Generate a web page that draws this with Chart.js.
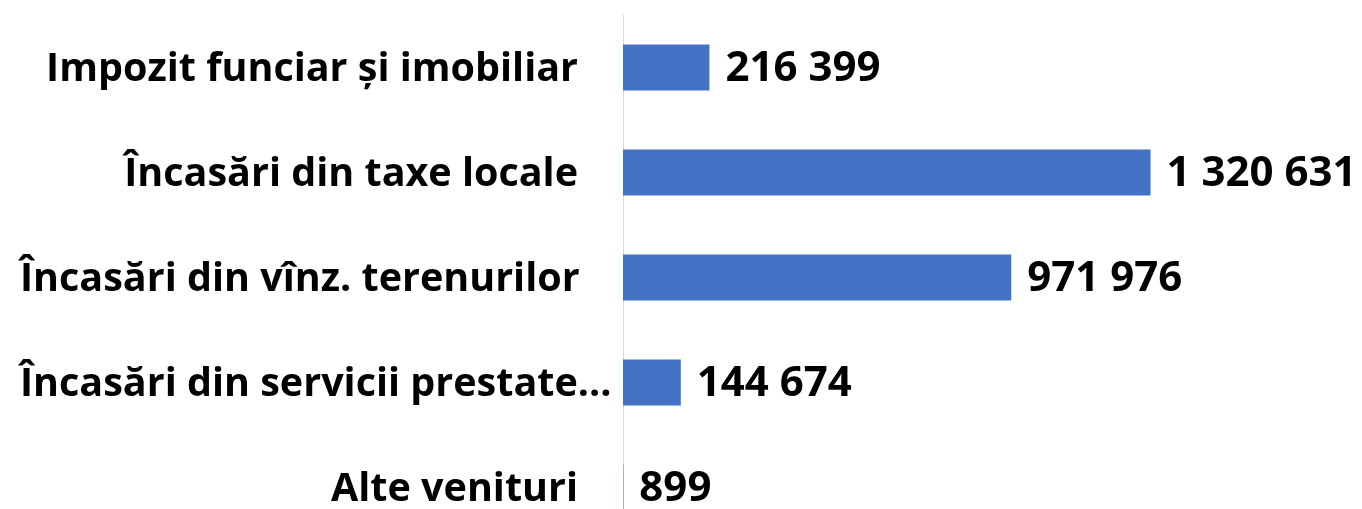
<!DOCTYPE html>
<html>
<head>
<meta charset="utf-8">
<script src="https://cdn.jsdelivr.net/npm/chart.js@4/dist/chart.umd.min.js"></script>
<style>
  html, body { margin: 0; padding: 0; background: #fff; overflow: hidden; }
  #wrap { width: 1362px; height: 540px; }
</style>
</head>
<body>
<div id="wrap"><canvas id="chart"></canvas></div>
<script>
const categories = [
    'Impozit funciar și imobiliar',
    'Încasări din taxe locale',
    'Încasări din vînz. terenurilor',
    'Încasări din servicii prestate...',
    'Alte venituri'
];
const values = [216399, 1320631, 971976, 144674, 899];

const FONT = '"Open Sans", "Noto Sans", sans-serif';
const BAR_COLOR = '#4472C4';

function fmt(v) {
    return String(v).replace(/\B(?=(\d{3})+(?!\d))/g, ' ');
}

// category names drawn by hand so an over-long one can overflow to the right like in Excel
const categoryLabels = {
    id: 'categoryLabels',
    afterDraw(chart) {
        const ctx = chart.ctx;
        const y = chart.scales.y;
        ctx.save();
        ctx.font = 'bold 39.5px ' + FONT;
        ctx.fillStyle = '#000';
        ctx.textAlign = 'left';
        ctx.textBaseline = 'middle';
        categories.forEach((name, i) => {
            const w = ctx.measureText(name).width;
            const right = Math.max(20 + w, 578);
            ctx.fillText(name, right - w, y.getPixelForValue(i) + 2);
        });
        ctx.restore();
    }
};

// value labels to the right of each bar
const valueLabels = {
    id: 'valueLabels',
    afterDatasetsDraw(chart) {
        const ctx = chart.ctx;
        const meta = chart.getDatasetMeta(0);
        ctx.save();
        ctx.font = 'bold 42px ' + FONT;
        ctx.fillStyle = '#000';
        ctx.textAlign = 'left';
        ctx.textBaseline = 'middle';
        meta.data.forEach((bar, i) => {
            ctx.fillText(fmt(values[i]), bar.x + 16, bar.y + 2);
        });
        ctx.restore();
    }
};

new Chart(document.getElementById('chart'), {
    type: 'bar',
    data: {
        labels: categories,
        datasets: [{
            data: values,
            backgroundColor: BAR_COLOR,
            categoryPercentage: 1,
            barPercentage: 0.44
        }]
    },
    options: {
        indexAxis: 'y',
        responsive: true,
        maintainAspectRatio: false,
        animation: false,
        layout: { padding: { top: 15, right: 0, bottom: 0, left: 0 } },
        plugins: { legend: { display: false }, tooltip: { enabled: false } },
        scales: {
            x: { display: false, min: 0, max: 1850000 },
            y: {
                grid: { display: false },
                border: { display: true, color: '#d9d9d9', width: 1 },
                ticks: { display: false },
                afterFit(scale) {
                    scale.width = 623;
                    scale.paddingTop = 0;
                    scale.paddingBottom = 0;
                }
            }
        }
    },
    plugins: [valueLabels, categoryLabels]
});
</script>
</body>
</html>
